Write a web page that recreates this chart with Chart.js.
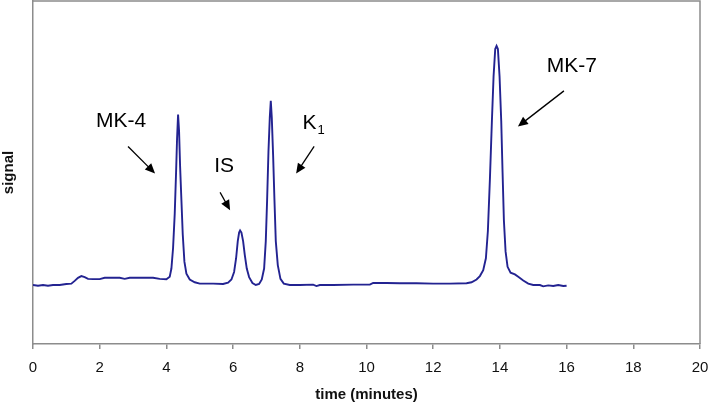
<!DOCTYPE html>
<html>
<head>
<meta charset="utf-8">
<script src="https://cdn.jsdelivr.net/npm/chart.js@4.4.1/dist/chart.umd.min.js"></script>
<style>
  html, body { margin: 0; padding: 0; background: #fff; }
  #wrap { width: 709px; height: 404px; }
</style>
</head>
<body>
<div id="wrap"><canvas id="myChart"></canvas></div>
<script>
const times = [
  0.00, 0.15, 0.30, 0.45, 0.60, 0.80, 1.00, 1.15, 1.25, 1.35, 1.45, 1.55, 1.65, 1.80,
  2.00, 2.15, 2.40, 2.60, 2.75, 2.90, 3.20, 3.60, 3.80, 4.00, 4.10, 4.15, 4.20, 4.25,
  4.29, 4.32, 4.35, 4.38, 4.41, 4.45, 4.49, 4.54, 4.60, 4.70, 4.85, 5.00, 5.40, 5.70,
  5.85, 5.95, 6.03, 6.09, 6.14, 6.18, 6.21, 6.25, 6.30, 6.35, 6.41, 6.48, 6.58, 6.68,
  6.78, 6.86, 6.93, 6.98, 7.02, 7.06, 7.10, 7.13, 7.16, 7.20, 7.24, 7.28, 7.34, 7.42,
  7.52, 7.70, 8.00, 8.40, 8.50, 8.60, 9.00, 9.60, 10.10, 10.20, 10.60, 11.00, 11.50,
  12.00, 12.50, 13.00, 13.15, 13.30, 13.40, 13.50, 13.58, 13.64, 13.70, 13.76, 13.81,
  13.86, 13.90, 13.94, 13.99, 14.04, 14.08, 14.12, 14.17, 14.23, 14.32, 14.45, 14.55,
  14.70, 14.85, 15.00, 15.20, 15.30, 15.45, 15.60, 15.75, 15.90, 16.00
];
const signal = [
  17.2, 17.0, 17.2, 17.0, 17.2, 17.2, 17.5, 17.6, 18.4, 19.3, 19.8, 19.5, 19.0, 18.9,
  18.9, 19.3, 19.3, 19.3, 19.0, 19.3, 19.3, 19.3, 19.0, 18.9, 19.6, 22.0, 28.0, 38.0,
  50.0, 60.0, 66.9, 62.0, 52.0, 42.0, 32.0, 24.0, 20.5, 18.8, 18.0, 17.6, 17.6, 17.5,
  17.9, 18.8, 21.0, 25.0, 30.0, 32.5, 33.1, 32.5, 30.0, 26.0, 22.0, 19.5, 17.8, 17.2,
  17.5, 18.8, 22.0, 30.0, 42.0, 56.0, 66.0, 70.9, 66.0, 55.0, 42.0, 30.0, 23.0, 19.0,
  17.6, 17.2, 17.2, 17.3, 16.9, 17.2, 17.2, 17.3, 17.3, 17.8, 17.8, 17.7, 17.7,
  17.6, 17.6, 17.7, 18.0, 18.8, 19.8, 21.5, 25.0, 33.0, 48.0, 65.0, 78.0,
  86.0, 86.9, 86.0, 78.0, 65.0, 50.0, 36.0, 27.0, 22.5, 20.8, 20.3, 19.6,
  18.5, 17.6, 17.2, 17.2, 16.8, 17.1, 16.9, 17.2, 16.9, 17.0
];
const xTicks = [0, 2, 4, 6, 8, 10, 12, 14, 16, 18, 20];

// etichette dei picchi: testo, posizione (in unita del grafico), freccia da -> a
const peakNames = ['MK-4', 'IS', 'K', 'MK-7'];
const peakSub = ['', '', '1', ''];
const labelPos = [[2.64, 65.1], [5.73, 51.7], [8.40, 64.5], [16.16, 81.1]];
const arrowFrom = [[2.85, 57.6], [5.61, 44.2], [8.43, 57.6], [15.92, 73.8]];
const arrowTo = [[3.66, 49.7], [5.91, 39.0], [7.89, 49.7], [14.54, 63.4]];

const points = times.map((t, i) => ({ x: t, y: signal[i] }));

// plugin per cornice e frecce
const extras = {
  id: 'extras',
  afterDraw(chart) {
    const c = chart.ctx;
    const a = chart.chartArea;
    const xs = chart.scales.x, ys = chart.scales.y;
    c.save();
    c.strokeStyle = '#8c8c8c';
    c.lineWidth = 1.5;
    c.beginPath();
    c.moveTo(a.left, a.top);
    c.lineTo(a.right, a.top);
    c.lineTo(a.right, a.bottom);
    c.stroke();

    c.fillStyle = '#000';
    c.strokeStyle = '#000';
    c.font = '21px "Liberation Sans", Arial, sans-serif';
    c.textBaseline = 'middle';
    peakNames.forEach((name, i) => {
      const px = xs.getPixelForValue(labelPos[i][0]);
      const py = ys.getPixelForValue(labelPos[i][1]);
      const w = c.measureText(name).width;
      let subW = 0;
      if (peakSub[i]) {
        c.font = '13px "Liberation Sans", Arial, sans-serif';
        subW = c.measureText(peakSub[i]).width;
        c.font = '21px "Liberation Sans", Arial, sans-serif';
      }
      const x0 = px - (w + subW) / 2;
      c.textAlign = 'left';
      c.fillText(name, x0, py);
      if (peakSub[i]) {
        c.font = '13px "Liberation Sans", Arial, sans-serif';
        c.fillText(peakSub[i], x0 + w + 1, py + 8);
        c.font = '21px "Liberation Sans", Arial, sans-serif';
      }
      // freccia
      const x1 = xs.getPixelForValue(arrowFrom[i][0]);
      const y1 = ys.getPixelForValue(arrowFrom[i][1]);
      const x2 = xs.getPixelForValue(arrowTo[i][0]);
      const y2 = ys.getPixelForValue(arrowTo[i][1]);
      const ang = Math.atan2(y2 - y1, x2 - x1);
      const hl = 10, hw = 4.5;
      c.lineWidth = 1.3;
      c.beginPath();
      c.moveTo(x1, y1);
      c.lineTo(x2 - Math.cos(ang) * hl * 0.8, y2 - Math.sin(ang) * hl * 0.8);
      c.stroke();
      c.beginPath();
      c.moveTo(x2, y2);
      c.lineTo(x2 - Math.cos(ang) * hl - Math.sin(ang) * hw, y2 - Math.sin(ang) * hl + Math.cos(ang) * hw);
      c.lineTo(x2 - Math.cos(ang) * hl + Math.sin(ang) * hw, y2 - Math.sin(ang) * hl - Math.cos(ang) * hw);
      c.closePath();
      c.fill();
    });
    c.restore();
  }
};

const config = {
  type: 'line',
  data: {
    datasets: [{
      label: 'signal',
      data: points,
      borderColor: '#232391',
      borderWidth: 1.9,
      pointRadius: 0,
      tension: 0,
      fill: false
    }]
  },
  options: {
    responsive: true,
    maintainAspectRatio: false,
    animation: false,
    layout: { padding: { top: 1, right: 9, left: 0, bottom: 0 } },
    plugins: {
      legend: { display: false },
      tooltip: { enabled: false }
    },
    scales: {
      x: {
        type: 'linear',
        min: 0,
        max: 20,
        afterBuildTicks: (s) => { s.ticks = xTicks.map(v => ({ value: v })); },
        afterFit: (s) => { s.height = 60; s.paddingLeft = 0; s.paddingRight = 0; },
        grid: { display: true, drawOnChartArea: false, drawTicks: true, tickLength: 5, color: '#8c8c8c', lineWidth: 1.5 },
        border: { display: true, color: '#8c8c8c', width: 1.5 },
        ticks: {
          color: '#111',
          padding: 10,
          maxRotation: 0,
          font: { family: '"Liberation Sans", Arial, sans-serif', size: 15 }
        },
        title: {
          display: true,
          text: 'time (minutes)',
          color: '#111',
          padding: { top: 0, bottom: 0 },
          font: { family: '"Liberation Sans", Arial, sans-serif', size: 15, weight: 'bold', lineHeight: 1.2 }
        }
      },
      y: {
        min: 0,
        max: 100,
        afterFit: (s) => { s.width = 33; },
        grid: { display: false },
        border: { display: true, color: '#8c8c8c', width: 1.5 },
        ticks: { display: false },
        title: {
          display: true,
          text: 'signal',
          color: '#111',
          padding: { top: 0, bottom: 0 },
          font: { family: '"Liberation Sans", Arial, sans-serif', size: 15, weight: 'bold', lineHeight: 1.2 }
        }
      }
    }
  },
  plugins: [extras]
};

const myChart = new Chart(document.getElementById('myChart'), config);
</script>
</body>
</html>
